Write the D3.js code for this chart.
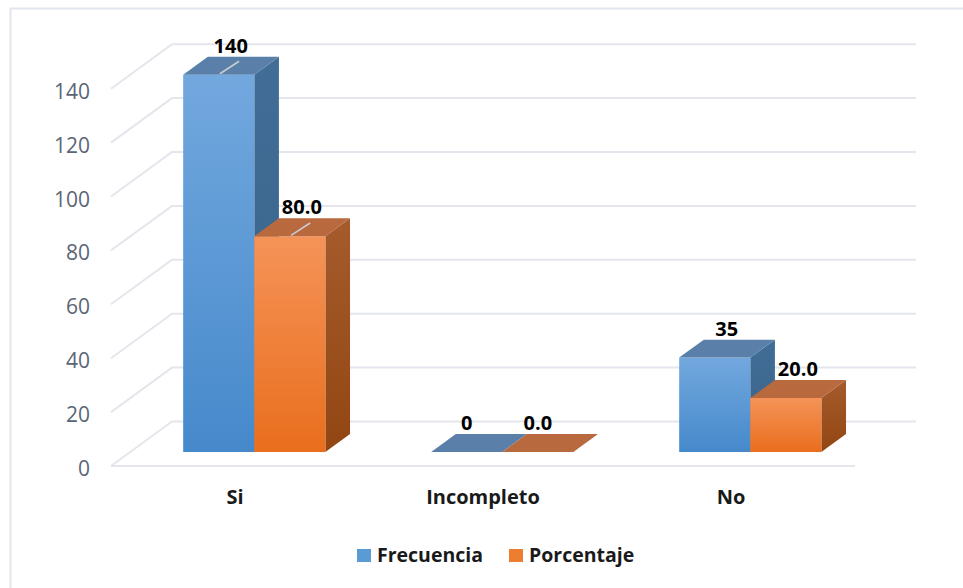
<!DOCTYPE html>
<html>
<head>
<meta charset="utf-8">
<script src="https://cdn.jsdelivr.net/npm/d3@7"></script>
<style>
  html, body { margin: 0; padding: 0; background: #fff; }
  svg { display: block; font-family: "Open Sans", "DejaVu Sans", sans-serif; }
</style>
</head>
<body>
<svg id="chart" width="963" height="588"></svg>
<script>
// Categories, series and values of the 3D clustered column chart
const categories = ["Si", "Incompleto", "No"];
const seriesNames = ["Frecuencia", "Porcentaje"];
const frecuencia = [140, 0, 35];
const porcentaje = [80.0, 0.0, 20.0];
const tickValues = [0, 20, 40, 60, 80, 100, 120, 140];
const labelFormats = [d3.format("d"), d3.format(".1f")];
const leaderCategories = ["Si"];

const values = [frecuencia, porcentaje];

const svg = d3.select("#chart");
const W = 963, H = 588;

// Outer chart frame
svg.append("rect")
  .attr("x", 10.5).attr("y", 8.5)
  .attr("width", W + 20).attr("height", H + 20)
  .attr("fill", "#fff").attr("stroke", "#e1e6ed").attr("stroke-width", 2);

// Plot geometry: front floor edge, depth vector of the 3D box
const floorLeft = 111, floorRight = 855, floorY = 466;
const depthDX = 61, depthDY = -44.5;

const x0 = d3.scaleBand().domain(categories).range([floorLeft, floorRight]).padding(0);
const x1 = d3.scaleBand().domain(seriesNames).range([0, x0.bandwidth()])
  .paddingInner(0).paddingOuter(0.744);
const yScale = d3.scaleLinear().domain([0, 140]).range([0, 377.3]);

// project a point (front x, value, depth 0..1) onto the screen
function P(x, v, d) {
  return [x + d * depthDX, floorY - yScale(v) + d * depthDY];
}

// Gridlines: back wall and left wall
const grid = svg.append("g").attr("stroke", "#e3e6ec").attr("stroke-width", 2).attr("fill", "none");
tickValues.forEach(t => {
  const a = P(floorLeft, t, 0), b = P(floorLeft, t, 1), c = P(floorRight, t, 1);
  grid.append("path").attr("d", d3.line()([a, b, c]));
});
// front edge of the floor
grid.append("line")
  .attr("x1", floorLeft).attr("x2", floorRight)
  .attr("y1", floorY).attr("y2", floorY);

// Tick labels
svg.append("g").selectAll("text").data(tickValues).join("text")
  .attr("x", 90).attr("y", d => P(floorLeft, d, 0)[1] + 2)
  .attr("text-anchor", "end").attr("dominant-baseline", "central")
  .attr("font-size", 21).attr("fill", "#5a6676")
  .text(d => d);

// Gradients
const defs = svg.append("defs");
function vgrad(id, top, bottom) {
  const g = defs.append("linearGradient").attr("id", id)
    .attr("x1", 0).attr("y1", 0).attr("x2", 0).attr("y2", 1);
  g.append("stop").attr("offset", "0%").attr("stop-color", top);
  g.append("stop").attr("offset", "100%").attr("stop-color", bottom);
}
const palette = [
  { front: ["#72a8de", "#4689cb"], top: "#5a80a9", side: ["#426d96", "#386289"], legend: "#5b9bd5" },
  { front: ["#f59358", "#e96e1d"], top: "#b8693e", side: ["#a65b2d", "#914612"], legend: "#ed7d31" }
];
palette.forEach((p, i) => {
  vgrad("front" + i, p.front[0], p.front[1]);
  vgrad("side" + i, p.side[0], p.side[1]);
});

// Bars occupy this slice of the depth
const dFront = 0.316, dBack = 0.72;

const bars = [];
categories.forEach((c, ci) => {
  seriesNames.forEach((s, si) => {
    bars.push({ cat: c, series: s, si, v: values[si][ci], x: x0(c) + x1(s), w: x1.bandwidth() });
  });
});

const barG = svg.append("g");
// draw left-to-right so right bars overlap left side faces
bars.forEach(b => {
  const g = barG.append("g");
  const xl = b.x, xr = b.x + b.w;
  const fBL = P(xl, 0, dFront), fBR = P(xr, 0, dFront);
  const fTL = P(xl, b.v, dFront), fTR = P(xr, b.v, dFront);
  const bTL = P(xl, b.v, dBack), bTR = P(xr, b.v, dBack), bBR = P(xr, 0, dBack);
  if (b.v > 0) {
    // side face
    g.append("path").attr("d", d3.line()([fTR, bTR, bBR, fBR]) + "Z")
      .attr("fill", `url(#side${b.si})`);
    // front face
    g.append("path").attr("d", d3.line()([fTL, fTR, fBR, fBL]) + "Z")
      .attr("fill", `url(#front${b.si})`);
  }
  // top face
  g.append("path").attr("d", d3.line()([fTL, fTR, bTR, bTL]) + "Z")
    .attr("fill", palette[b.si].top);
});

// Leader lines for labels moved off their bars
bars.filter(b => leaderCategories.includes(b.cat)).forEach(b => {
  const cx = b.x + b.w / 2;
  const a = P(cx, b.v, dFront + 0.02), c = P(cx + 2, b.v, dFront + 0.3);
  barG.append("line")
    .attr("x1", a[0]).attr("y1", a[1]).attr("x2", c[0]).attr("y2", c[1])
    .attr("stroke", "#c9ccd1").attr("stroke-width", 1.6);
});

// Data labels
svg.append("g").selectAll("text").data(bars).join("text")
  .attr("x", b => P(b.x + b.w / 2, b.v, dFront)[0] + (b.v > 0 ? 12 : 0))
  .attr("y", b => P(b.x + b.w / 2, b.v, dFront)[1] - 22)
  .attr("text-anchor", "middle")
  .attr("font-size", 20).attr("font-weight", 700).attr("fill", "#000")
  .text(b => labelFormats[b.si](b.v));

// Category labels
svg.append("g").selectAll("text").data(categories).join("text")
  .attr("x", c => x0(c) + x0.bandwidth() / 2)
  .attr("y", 504)
  .attr("text-anchor", "middle")
  .attr("font-size", 20).attr("font-weight", 700).attr("fill", "#1a1a1a")
  .text(c => c);

// Legend
const legendItems = [
  { name: seriesNames[0], color: palette[0].legend, x: 357 },
  { name: seriesNames[1], color: palette[1].legend, x: 509 }
];
const lg = svg.append("g");
legendItems.forEach(it => {
  lg.append("rect").attr("x", it.x).attr("y", 549).attr("width", 14).attr("height", 13)
    .attr("fill", it.color);
  lg.append("text").attr("x", it.x + 20).attr("y", 562)
    .attr("font-size", 19.5).attr("font-weight", 700).attr("fill", "#1a1a1a")
    .text(it.name);
});
</script>
</body>
</html>
